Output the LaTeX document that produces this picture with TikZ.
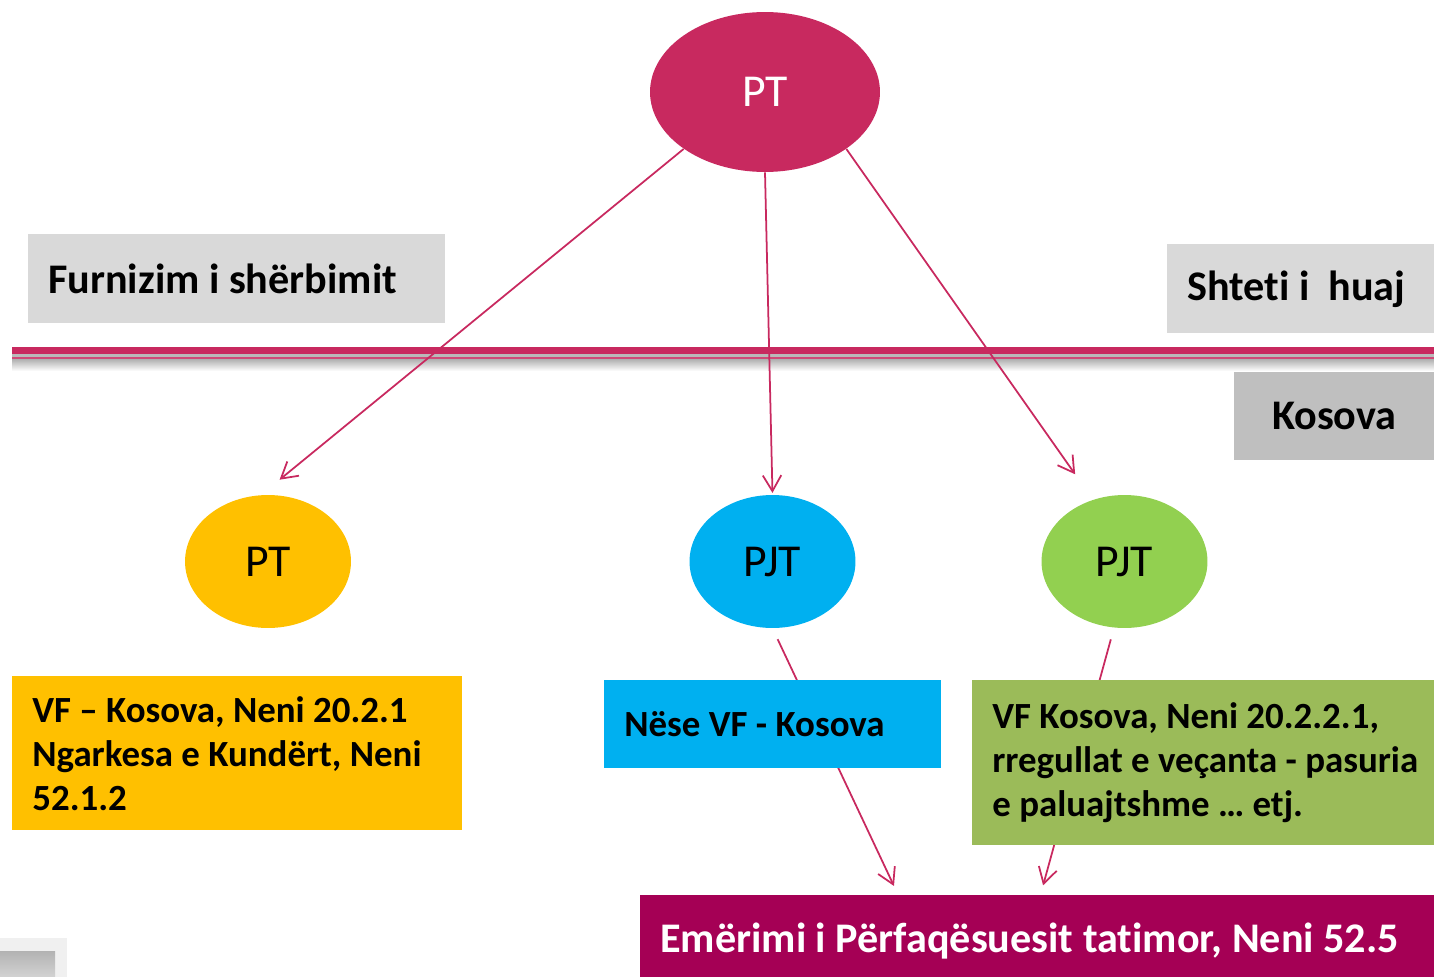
\documentclass[tikz,border=0pt]{standalone}
\usepackage{fontspec}
\setmainfont{Carlito}[Ligatures=NoCommon]
\usepackage{tikz}
\usetikzlibrary{calc, arrows.meta, shapes.geometric}
\definecolor{ptred}{RGB}{200,41,95}
\definecolor{emrred}{RGB}{165,0,85}
\definecolor{ygold}{RGB}{255,192,0}
\definecolor{bsky}{RGB}{0,176,240}
\definecolor{glime}{RGB}{146,208,80}
\definecolor{golive}{RGB}{155,187,89}
\definecolor{lgray}{RGB}{217,217,217}
\definecolor{mgray}{RGB}{191,191,191}
\tikzset{ell/.style={ellipse, inner sep=0pt, minimum width=3.32cm, minimum height=2.66cm, font=\fontsize{26}{30}\selectfont}}
\tikzset{tbox/.style={anchor=north west, inner xsep=0.4cm, inner ysep=0pt, align=flush left, font=\fontsize{24}{25}\selectfont\bfseries}}
\tikzset{sbox/.style={tbox, font=\fontsize{21}{25}\selectfont\bfseries}}
\tikzset{arr/.style={draw=ptred, line width=1pt, -{Straight Barb[length=9pt,width=10.5pt]}}}

\begin{document}
\begin{tikzpicture}[x=0.02cm, y=-0.02cm]
			\useasboundingbox (0,0) rectangle (1434,977);
			% double line between the two countries
			\fill[ptred] (12,347) rectangle (1434,354);
			\fill[gray!55] (12,354) rectangle (1434,357);
			\fill[ptred!85] (12,357) rectangle (1434,359.5);
			\shade[top color=black!30, bottom color=white] (12,359.5) rectangle (1434,371);
%
			\node[tbox, fill=lgray, minimum height=1.78cm, text width=7.54cm] (furn) at (28,234) {Furnizim i shërbimit};
			\node[tbox, fill=lgray, minimum height=1.78cm, text width=4.54cm] (shteti) at (1167,244) {Shteti i\ \ huaj};
			\node[tbox, fill=mgray, minimum height=1.76cm, text width=3.2cm, align=center] (kos) at (1234,372) {Kosova};
%
			\node[ell, fill=ptred, text=white, minimum width=4.6cm, minimum height=3.2cm] (PT0) at (765,92) {PT};
			\node[ell, fill=ygold] (PT1) at (268,561.5) {PT};
			\node[ell, fill=bsky] (PJT1) at (772.5,561.5) {PJT};
			\node[ell, fill=glime] (PJT2) at (1124.5,561.5) {PJT};
%
			\node[sbox, fill=ygold, minimum height=3.08cm, text width=8.2cm] (vfK) at (12,676)
				{VF – Kosova, Neni 20.2.1\\Ngarkesa e Kundërt, Neni\\52.1.2};
			\node[tbox, fill=emrred, text=white, minimum height=1.84cm, text width=15.08cm] (emr) at (640,895)
				{Emërimi i Përfaqësuesit tatimor, Neni 52.5};
%
			\draw[arr, shorten >=0.48cm] (PT0.-145) -- (PT1.96);
			\draw[arr, shorten >=1pt] (PT0.south) -- (PJT1.north);
			\draw[arr, shorten >=0.62cm] (PT0.-35.6) -- (PJT2.117);
			\draw[arr, shorten <=0.24cm, shorten >=0.2cm] (PJT1.south) -- ($(emr.north west)!0.325!(emr.north east)$);
			\draw[arr, shorten <=0.24cm, shorten >=0.2cm] (PJT2.-99) -- ($(emr.north west)!0.504!(emr.north east)$);
%
			\node[sbox, fill=bsky, minimum height=1.76cm, text width=5.94cm] (nese) at (604,680) {Nëse VF - Kosova};
			\node[sbox, fill=golive, minimum height=3.3cm, text width=8.44cm] (vfR) at (972,680)
				{VF Kosova, Neni 20.2.2.1,\\\mbox{rregullat e veçanta - pasuria}\\e paluajtshme … etj.};
			% corner scrap
			\fill[gray!12] (0,938) rectangle (67,977);
			\shade[top color=gray!60, bottom color=gray!35] (0,951) rectangle (55,977);
		\end{tikzpicture}
\end{document}
